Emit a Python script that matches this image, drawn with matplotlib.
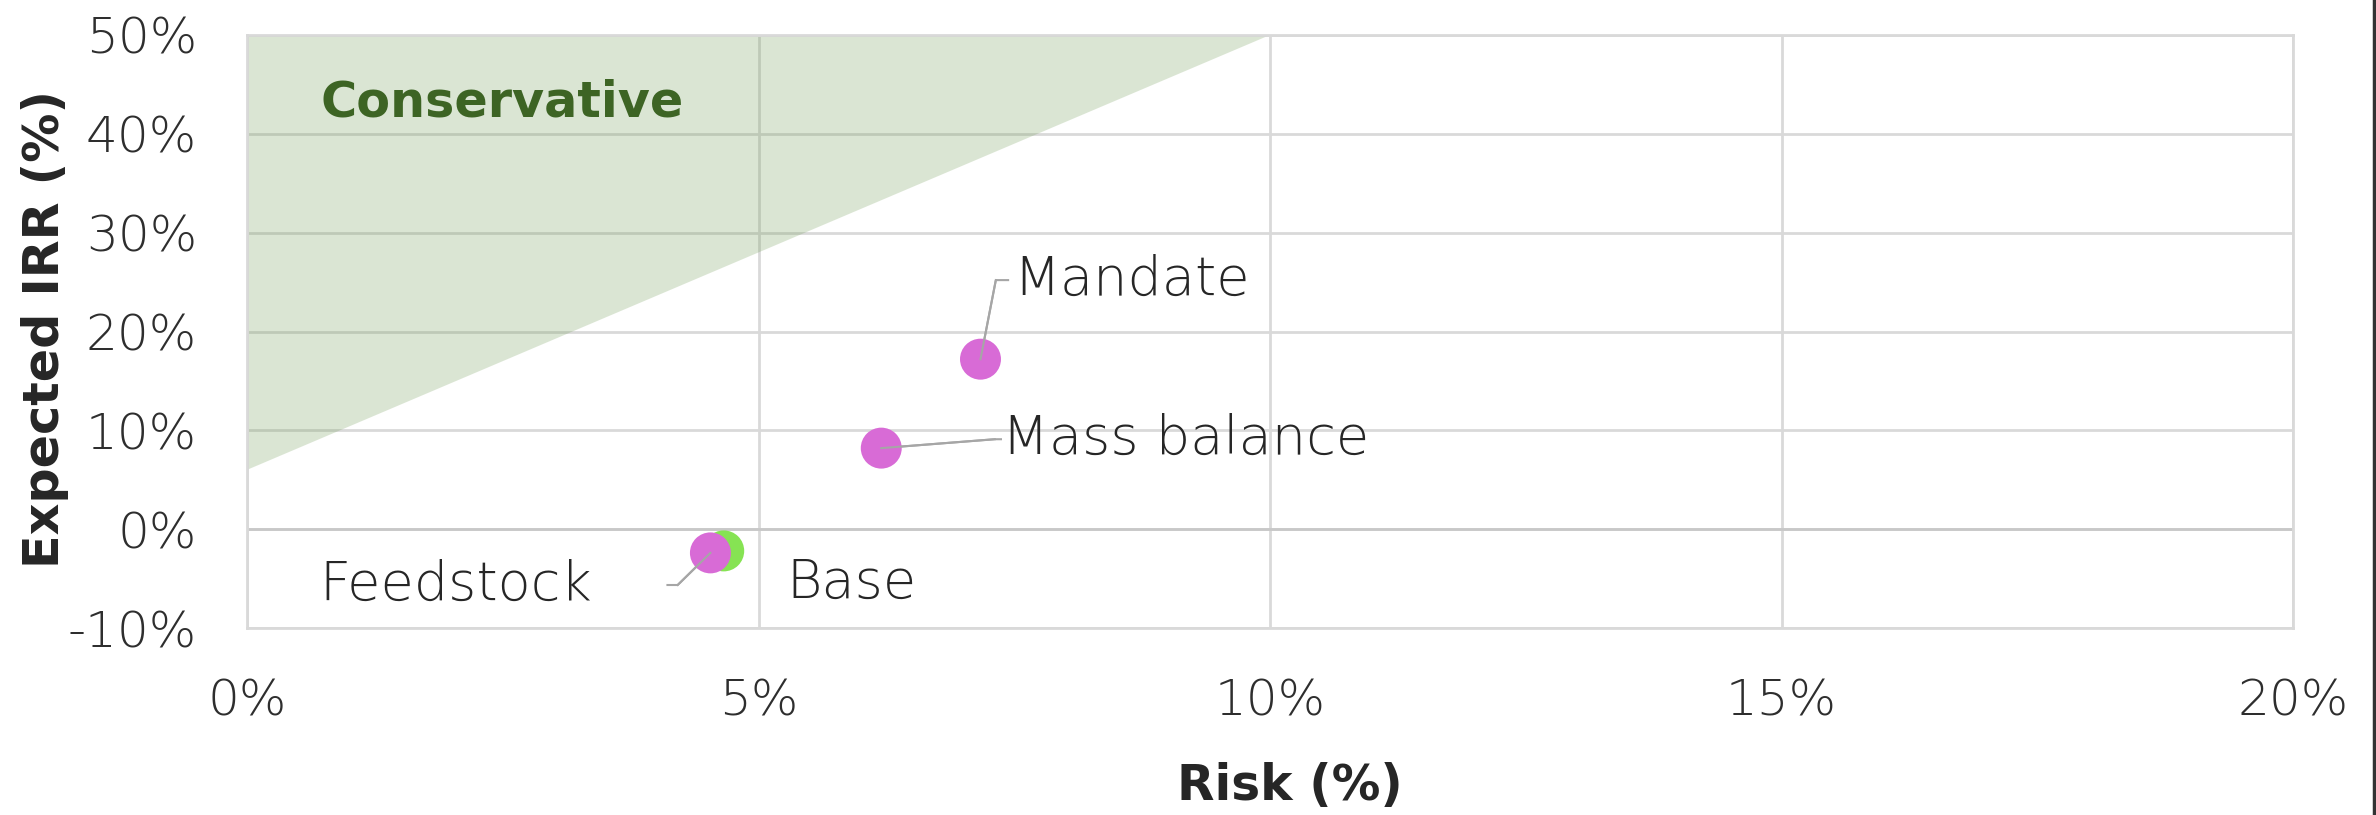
import matplotlib
matplotlib.use("Agg")
import matplotlib.pyplot as plt
from matplotlib.lines import Line2D

# Scenario results: risk (x) vs expected IRR (y), in percent
scenarios = ["Base", "Feedstock", "Mass balance", "Mandate"]
risk = [4.66, 4.53, 6.20, 7.17]
irr = [-2.2, -2.4, 8.2, 17.2]
colors = ["#86E353", "#D86BD6", "#D86BD6", "#D86BD6"]

# Conservative zone boundary: from (0%, 6%) up to (10%, 50%)
zone_x = [0, 10, 0]
zone_y = [50, 50, 6]

x_ticks = [0, 5, 10, 15, 20]
x_tick_labels = ["0%", "5%", "10%", "15%", "20%"]
y_ticks = [-10, 0, 10, 20, 30, 40, 50]
y_tick_labels = ["-10%", "0%", "10%", "20%", "30%", "40%", "50%"]

# Label placement (data units): text anchor and leader elbow
label_text_pos = {
    "Mandate": (7.49, 25.2),
    "Mass balance": (7.38, 9.1),
    "Base": (5.27, -5.45),
    "Feedstock": (0.71, -5.65),
}
leader_paths = {
    "Mandate": ([7.32, 7.44], [25.2, 25.2]),
    "Mass balance": ([7.31, 7.37], [9.1, 9.1]),
    "Feedstock": ([4.21, 4.11], [-5.65, -5.65]),
}

TEXT = "#262626"
GRID = "#D9D9D9"
FONT = "DejaVu Sans"

plt.rcParams["font.family"] = FONT

fig = plt.figure(figsize=(23.76, 8.15), dpi=100)
ax = fig.add_axes([247 / 2376, 1 - 628 / 815, (2293 - 247) / 2376, (628 - 35) / 815])

ax.set_xlim(0, 20)
ax.set_ylim(-10, 50)

ax.set_xticks(x_ticks)
ax.set_xticklabels(x_tick_labels)
ax.set_yticks(y_ticks)
ax.set_yticklabels(y_tick_labels)
ax.tick_params(axis="both", length=0, labelsize=36, labelcolor="#2E2E2E")
ax.tick_params(axis="x", pad=36)
ax.tick_params(axis="y", pad=36)
for lab in ax.get_xticklabels() + ax.get_yticklabels():
    lab.set_fontweight("light")

ax.grid(True, color=GRID, linewidth=2.0, zorder=0)
ax.set_axisbelow(True)
for side in ["top", "right", "left", "bottom"]:
    ax.spines[side].set_color(GRID)
    ax.spines[side].set_linewidth(2.0)
ax.axhline(0, color="#C8C8C8", linewidth=2.0, zorder=1)

# Conservative region
ax.fill(zone_x, zone_y, color="#6F9A53", alpha=0.25, linewidth=0, zorder=2)
ax.text(0.72, 43.2, "Conservative", fontsize=35.5, fontweight="bold",
        color="#3D6424", va="center", ha="left", zorder=5)

# Leader lines
for name, x, y in zip(scenarios, risk, irr):
    if name in leader_paths:
        lx, ly = leader_paths[name]
        ax.plot([x] + lx, [y] + ly, color="#A6A6A6", linewidth=1.5, zorder=3)

# Points
ax.scatter(risk, irr, s=870, c=colors, linewidths=0, zorder=4)

# Leader segments that start inside the markers stay visible on top
for name, x, y in zip(scenarios, risk, irr):
    if name in leader_paths:
        lx, ly = leader_paths[name]
        ax.plot([x, lx[0]], [y, ly[0]], color="#A6A6A6", linewidth=1.5, zorder=4.5)

for name in scenarios:
    tx, ty = label_text_pos[name]
    ax.text(tx, ty, name, fontsize=39, fontweight="light", color=TEXT,
            va="center", ha="left", zorder=5)

fig.text(1290 / 2376, 1 - 786 / 815, "Risk (%)", fontsize=35, color=TEXT,
         fontweight="bold", ha="center", va="center")
fig.text(45 / 2376, 1 - 329 / 815, "Expected IRR (%)", fontsize=35.5,
         fontweight="bold", color=TEXT, ha="center", va="center", rotation=90)

# Dark frame edge on the right
fig.add_artist(Line2D([2373.5 / 2376, 2373.5 / 2376], [0, 1], transform=fig.transFigure,
                      color="#333333", linewidth=2.5))

fig.savefig("out.png", dpi=100)
